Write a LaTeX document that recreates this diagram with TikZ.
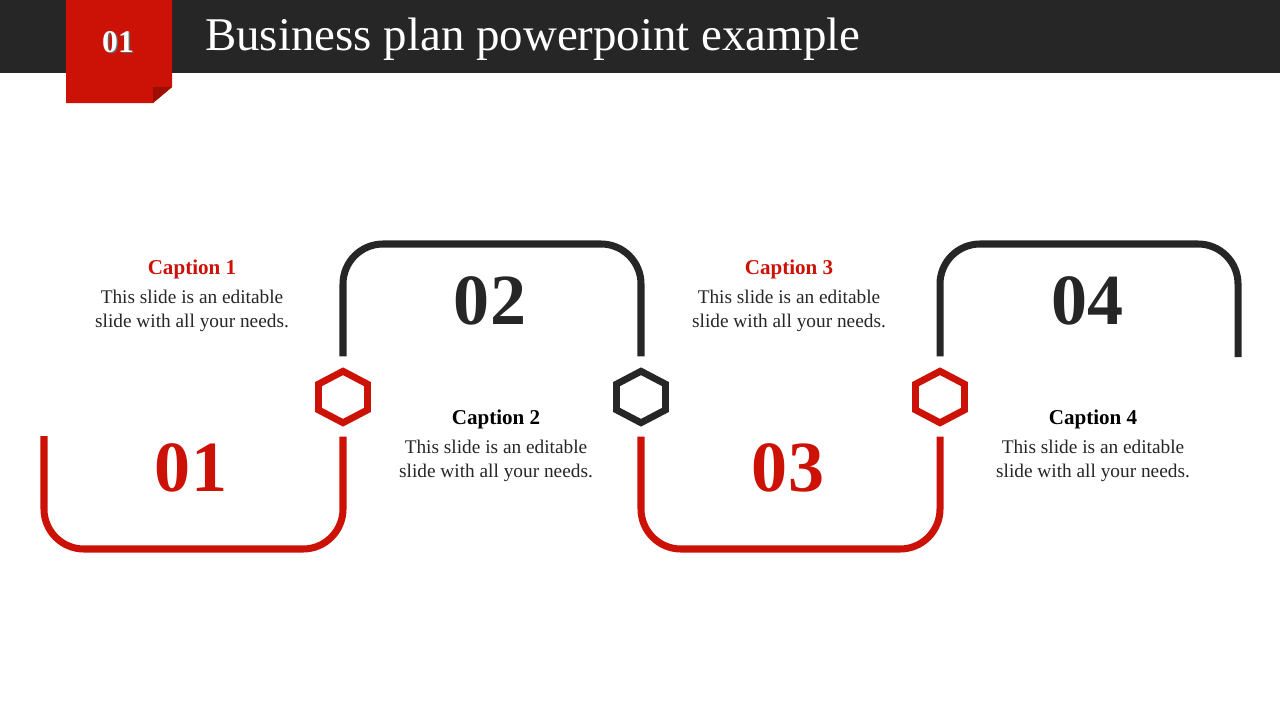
\documentclass[tikz,border=0pt]{standalone}
\usepackage{fontspec}
\setmainfont{Liberation Serif}
\usepackage{tikz}
\usetikzlibrary{shapes.geometric, positioning, calc}
\definecolor{bpred}{HTML}{CC1206}
\definecolor{bpdark}{HTML}{262626}
\definecolor{bpfold}{HTML}{9E0E04}

\begin{document}
\begin{tikzpicture}[
  x=0.02cm, y=-0.02cm,
  hexa/.style={regular polygon, regular polygon sides=6, draw,
               shape border rotate=30, xscale=1.1, transform shape,
               line width=3.9pt, minimum size=1.03cm, inner sep=0pt},
  track/.style={line width=4pt, rounded corners=0.8cm},
  bignum/.style={font=\fontsize{41}{44}\selectfont\bfseries},
  captitle/.style={font=\fontsize{12}{14}\selectfont\bfseries},
  captext/.style={font=\fontsize{11}{13.3}\selectfont, align=center,
                  text=bpdark, inner sep=2pt}
]
\useasboundingbox (0,0) rectangle (1280,720);

%% Header bar and tab
\fill[bpdark] (0,0) rectangle (1280,73);
\fill[bpred] (66,0) -- (172,0) -- (172,87) -- (153,103) -- (66,103) -- cycle;
\fill[bpfold] (153,87) -- (172,87) -- (153,103) -- cycle;
\node[font=\fontsize{18}{20}\selectfont\bfseries, text=black!60] at (119.5,43.5) {01};
\node[font=\fontsize{18}{20}\selectfont\bfseries, text=white] (tab) at (118,42) {01};
\node[font=\fontsize{26.7}{30}\selectfont, text=white, anchor=west] (title) at (199,39)
  {Business plan powerpoint example};

%% Hexagons
\node[hexa, draw=bpred]  (h1) at (343,397) {};
\node[hexa, draw=bpdark] (h2) at (641,397) {};
\node[hexa, draw=bpred]  (h3) at (940,397) {};

%% Free ends
\coordinate (s0) at (44,436);
\coordinate (e4) at (1238,357);

%% Tracks
\draw[track, bpred]  (s0) -- (44,549) -- (h1.south |- 0,549)
  -- ($(h1.south)+(0,10)$);
\draw[track, bpdark] ($(h1.north)+(0,-11)$) -- (h1.north |- 0,244)
  -- (h2.north |- 0,244) -- ($(h2.north)+(0,-11)$);
\draw[track, bpred]  ($(h2.south)+(0,10)$) -- (h2.south |- 0,549)
  -- (h3.south |- 0,549) -- ($(h3.south)+(0,10)$);
\draw[track, bpdark] ($(h3.north)+(0,-11)$) -- (h3.north |- 0,244)
  -- (e4 |- 0,244) -- (e4);

%% Step numbers
\node[bignum, text=bpred]  (n1) at (191,468) {01};
\node[bignum, text=bpdark] (n2) at (490,301) {02};
\node[bignum, text=bpred]  (n3) at (788,468) {03};
\node[bignum, text=bpdark] (n4) at (1087,301) {04};

%% Captions
\node[captitle, text=bpred]  (c1) at (192,269) {Caption 1};
\node[captext, below=1pt of c1] (t1)
  {This slide is an editable\\slide with all your needs.};
\node[captitle, text=black]  (c2) at (496,419) {Caption 2};
\node[captext, below=1pt of c2] (t2)
  {This slide is an editable\\slide with all your needs.};
\node[captitle, text=bpred]  (c3) at (789,269) {Caption 3};
\node[captext, below=1pt of c3] (t3)
  {This slide is an editable\\slide with all your needs.};
\node[captitle, text=black]  (c4) at (1093,419) {Caption 4};
\node[captext, below=1pt of c4] (t4)
  {This slide is an editable\\slide with all your needs.};

\end{tikzpicture}
\end{document}
